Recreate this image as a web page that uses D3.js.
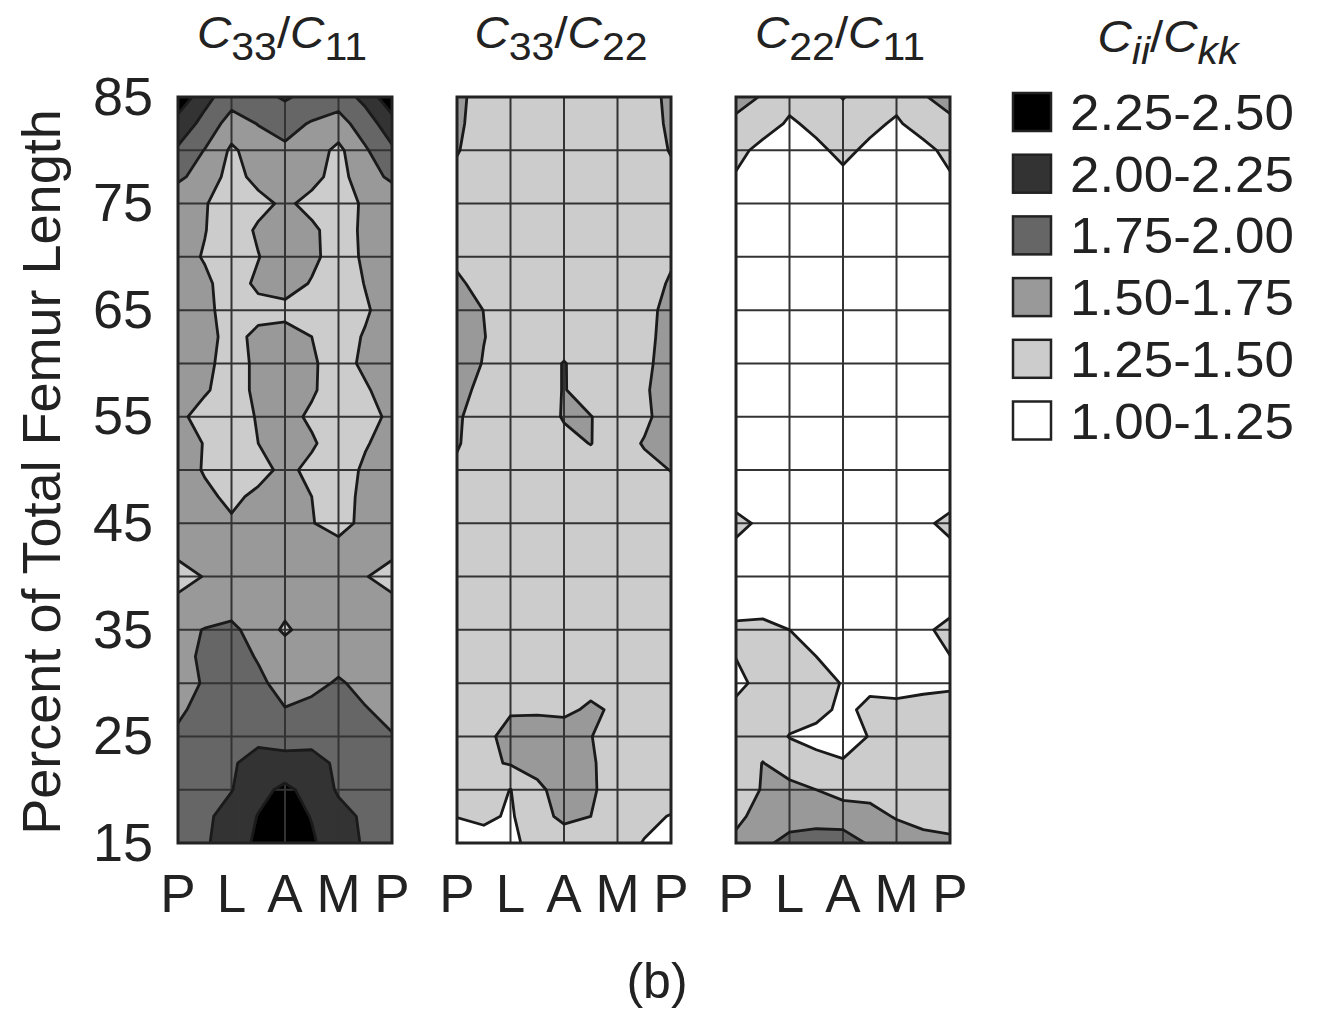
<!DOCTYPE html>
<html>
<head>
<meta charset="utf-8">
<script src="https://cdn.jsdelivr.net/npm/d3@7"></script>
<style>
  body { margin: 0; background: #fff; }
  text { font-family: "Liberation Sans", Arial, sans-serif; fill: #222; }
</style>
</head>
<body>
<svg id="chart" width="1319" height="1015"></svg>
<script>
// x categories (around the femur) and y ticks (percent of femur length)
const xLabels = ["P", "L", "A", "M", "P"];
const yTicks = [15, 25, 35, 45, 55, 65, 75, 85];

// legend bands
const bandStarts = [1.00, 1.25, 1.50, 1.75, 2.00, 2.25];
const bandLabels = ["1.00-1.25", "1.25-1.50", "1.50-1.75", "1.75-2.00", "2.00-2.25", "2.25-2.50"];
const bandColors = ["#ffffff", "#cccccc", "#999999", "#666666", "#333333", "#000000"];

// sampled ratios: rows from 85% (top) to 15% (bottom) every 2.5%,
// columns P .. L .. A .. M .. P every half position
const c33c11 = [
  [2.45, 2.07, 1.87, 1.92, 2.03, 1.92, 1.87, 2.07, 2.45],
  [2.14, 1.93, 1.63, 1.76, 1.83, 1.73, 1.65, 1.88, 2.14],
  [1.97, 1.74, 1.46, 1.62, 1.71, 1.62, 1.44, 1.72, 1.96],
  [1.79, 1.66, 1.40, 1.58, 1.62, 1.58, 1.40, 1.66, 1.79],
  [1.60, 1.52, 1.35, 1.42, 1.55, 1.42, 1.35, 1.55, 1.60],
  [1.60, 1.51, 1.35, 1.54, 1.62, 1.55, 1.38, 1.55, 1.62],
  [1.60, 1.48, 1.35, 1.49, 1.65, 1.56, 1.38, 1.54, 1.62],
  [1.62, 1.55, 1.38, 1.55, 1.62, 1.48, 1.35, 1.51, 1.62],
  [1.62, 1.56, 1.40, 1.42, 1.42, 1.40, 1.36, 1.47, 1.62],
  [1.62, 1.58, 1.42, 1.56, 1.60, 1.50, 1.40, 1.52, 1.62],
  [1.63, 1.56, 1.40, 1.55, 1.60, 1.53, 1.40, 1.55, 1.63],
  [1.60, 1.53, 1.38, 1.56, 1.62, 1.53, 1.38, 1.47, 1.62],
  [1.56, 1.40, 1.38, 1.52, 1.58, 1.46, 1.38, 1.40, 1.56],
  [1.60, 1.49, 1.38, 1.50, 1.58, 1.53, 1.38, 1.48, 1.60],
  [1.62, 1.48, 1.38, 1.42, 1.56, 1.44, 1.38, 1.54, 1.62],
  [1.63, 1.55, 1.45, 1.55, 1.60, 1.50, 1.40, 1.56, 1.63],
  [1.63, 1.60, 1.53, 1.60, 1.62, 1.51, 1.42, 1.56, 1.62],
  [1.55, 1.60, 1.62, 1.63, 1.63, 1.63, 1.58, 1.60, 1.55],
  [1.42, 1.51, 1.62, 1.65, 1.66, 1.65, 1.62, 1.51, 1.42],
  [1.55, 1.60, 1.65, 1.62, 1.58, 1.60, 1.62, 1.60, 1.55],
  [1.68, 1.76, 1.80, 1.65, 1.46, 1.62, 1.65, 1.65, 1.60],
  [1.62, 1.82, 1.85, 1.73, 1.65, 1.67, 1.68, 1.65, 1.62],
  [1.66, 1.77, 1.88, 1.80, 1.66, 1.70, 1.77, 1.70, 1.62],
  [1.70, 1.85, 1.90, 1.85, 1.76, 1.80, 1.85, 1.76, 1.70],
  [1.80, 1.88, 1.95, 1.93, 1.88, 1.90, 1.90, 1.85, 1.76],
  [1.85, 1.90, 1.97, 2.10, 2.10, 2.10, 1.95, 1.90, 1.85],
  [1.85, 1.92, 1.99, 2.18, 2.30, 2.17, 1.97, 1.90, 1.85],
  [1.85, 1.95, 2.10, 2.26, 2.35, 2.24, 2.08, 1.96, 1.85],
  [1.80, 1.97, 2.12, 2.30, 2.38, 2.28, 2.12, 1.97, 1.80]
];

const c33c22 = [
  [1.60, 1.33, 1.35, 1.36, 1.37, 1.36, 1.35, 1.33, 1.60],
  [1.58, 1.30, 1.34, 1.36, 1.37, 1.36, 1.34, 1.30, 1.58],
  [1.52, 1.34, 1.36, 1.37, 1.38, 1.37, 1.36, 1.34, 1.52],
  [1.43, 1.37, 1.38, 1.38, 1.39, 1.38, 1.38, 1.37, 1.43],
  [1.40, 1.38, 1.39, 1.40, 1.40, 1.40, 1.39, 1.38, 1.40],
  [1.42, 1.39, 1.40, 1.40, 1.41, 1.40, 1.40, 1.39, 1.42],
  [1.475, 1.41, 1.40, 1.40, 1.41, 1.40, 1.40, 1.41, 1.475],
  [1.52, 1.46, 1.41, 1.40, 1.41, 1.40, 1.41, 1.42, 1.52],
  [1.58, 1.498, 1.42, 1.40, 1.41, 1.40, 1.41, 1.44, 1.56],
  [1.62, 1.505, 1.43, 1.40, 1.40, 1.40, 1.41, 1.44, 1.58],
  [1.60, 1.49, 1.43, 1.40, 1.51, 1.40, 1.41, 1.45, 1.60],
  [1.56, 1.45, 1.42, 1.40, 1.51, 1.41, 1.42, 1.47, 1.62],
  [1.53, 1.39, 1.41, 1.40, 1.515, 1.505, 1.42, 1.45, 1.62],
  [1.51, 1.44, 1.40, 1.40, 1.45, 1.505, 1.40, 1.516, 1.60],
  [1.48, 1.40, 1.39, 1.39, 1.40, 1.41, 1.42, 1.44, 1.505],
  [1.40, 1.39, 1.39, 1.39, 1.40, 1.40, 1.40, 1.41, 1.42],
  [1.39, 1.39, 1.40, 1.40, 1.40, 1.40, 1.40, 1.40, 1.40],
  [1.38, 1.39, 1.40, 1.41, 1.41, 1.41, 1.40, 1.39, 1.38],
  [1.38, 1.39, 1.40, 1.41, 1.42, 1.41, 1.40, 1.39, 1.38],
  [1.38, 1.39, 1.40, 1.41, 1.42, 1.42, 1.41, 1.39, 1.38],
  [1.38, 1.39, 1.40, 1.41, 1.42, 1.42, 1.42, 1.40, 1.38],
  [1.38, 1.39, 1.40, 1.41, 1.42, 1.43, 1.44, 1.40, 1.38],
  [1.38, 1.39, 1.40, 1.41, 1.42, 1.44, 1.46, 1.40, 1.38],
  [1.38, 1.40, 1.47, 1.47, 1.46, 1.53, 1.47, 1.40, 1.38],
  [1.38, 1.42, 1.60, 1.62, 1.60, 1.505, 1.42, 1.40, 1.38],
  [1.38, 1.45, 1.52, 1.58, 1.62, 1.52, 1.42, 1.40, 1.38],
  [1.38, 1.36, 1.245, 1.45, 1.60, 1.53, 1.40, 1.38, 1.36],
  [1.255, 1.30, 1.22, 1.42, 1.55, 1.50, 1.40, 1.30, 1.24],
  [1.15, 1.15, 1.20, 1.33, 1.38, 1.38, 1.33, 1.24, 1.15]
];

const c22c11 = [
  [1.55, 1.49, 1.32, 1.38, 1.51, 1.38, 1.32, 1.49, 1.55],
  [1.47, 1.35, 1.22, 1.30, 1.40, 1.30, 1.22, 1.35, 1.47],
  [1.32, 1.18, 1.12, 1.207, 1.30, 1.207, 1.12, 1.18, 1.32],
  [1.23, 1.12, 1.10, 1.12, 1.21, 1.12, 1.10, 1.12, 1.23],
  [1.15, 1.10, 1.08, 1.10, 1.12, 1.10, 1.08, 1.10, 1.15],
  [1.12, 1.08, 1.07, 1.08, 1.10, 1.08, 1.07, 1.08, 1.12],
  [1.10, 1.07, 1.06, 1.07, 1.08, 1.07, 1.06, 1.07, 1.10],
  [1.10, 1.07, 1.06, 1.06, 1.07, 1.06, 1.06, 1.07, 1.10],
  [1.10, 1.07, 1.06, 1.06, 1.06, 1.06, 1.06, 1.07, 1.10],
  [1.11, 1.08, 1.06, 1.06, 1.06, 1.06, 1.06, 1.08, 1.11],
  [1.12, 1.08, 1.06, 1.05, 1.05, 1.05, 1.06, 1.08, 1.12],
  [1.12, 1.08, 1.06, 1.05, 1.05, 1.05, 1.06, 1.08, 1.12],
  [1.13, 1.09, 1.06, 1.05, 1.05, 1.05, 1.06, 1.09, 1.13],
  [1.14, 1.10, 1.07, 1.06, 1.05, 1.06, 1.07, 1.10, 1.14],
  [1.15, 1.10, 1.07, 1.06, 1.06, 1.06, 1.07, 1.10, 1.15],
  [1.15, 1.11, 1.08, 1.07, 1.06, 1.07, 1.08, 1.11, 1.15],
  [1.32, 1.20, 1.09, 1.07, 1.07, 1.07, 1.09, 1.20, 1.32],
  [1.19, 1.23, 1.10, 1.08, 1.07, 1.08, 1.10, 1.23, 1.19],
  [1.14, 1.14, 1.10, 1.08, 1.08, 1.09, 1.12, 1.16, 1.14],
  [1.15, 1.15, 1.12, 1.10, 1.09, 1.10, 1.14, 1.24, 1.12],
  [1.30, 1.32, 1.25, 1.18, 1.12, 1.12, 1.15, 1.18, 1.36],
  [1.255, 1.35, 1.33, 1.25, 1.15, 1.13, 1.15, 1.15, 1.245],
  [1.20, 1.31, 1.38, 1.32, 1.24, 1.20, 1.18, 1.20, 1.22],
  [1.30, 1.38, 1.35, 1.32, 1.20, 1.30, 1.30, 1.32, 1.32],
  [1.35, 1.40, 1.24, 1.18, 1.15, 1.26, 1.35, 1.38, 1.38],
  [1.38, 1.505, 1.40, 1.32, 1.27, 1.35, 1.38, 1.38, 1.38],
  [1.42, 1.51, 1.56, 1.50, 1.42, 1.42, 1.40, 1.40, 1.40],
  [1.45, 1.58, 1.65, 1.62, 1.62, 1.58, 1.48, 1.42, 1.40],
  [1.55, 1.70, 1.82, 1.90, 1.88, 1.72, 1.65, 1.58, 1.55]
];

const panels = [
  { num: "33", den: "11", values: c33c11 },
  { num: "33", den: "22", values: c33c22 },
  { num: "22", den: "11", values: c22c11 }
];

const svg = d3.select("#chart");
const plotTop = 97, plotBottom = 843, panelW = 214;
const panelLefts = [178, 457, 736];
const nx = 9, ny = 29;

const y = d3.scaleLinear().domain([15, 85]).range([plotBottom, plotTop]);
const color = d3.scaleThreshold().domain(bandStarts.slice(1)).range(bandColors);
const contours = d3.contours().size([nx, ny]).thresholds(bandStarts);

// C with two subscripts, e.g. C33/C11
function ratioTitle(cx, cy, a, b, italicSub) {
  const t = svg.append("text")
    .attr("transform", "translate(" + cx + "," + cy + ") scale(1.08,1)")
    .attr("text-anchor", "middle").attr("font-size", 44);
  t.append("tspan").attr("font-style", "italic").text("C");
  t.append("tspan").attr("font-size", 38).attr("dy", 12)
    .attr("font-style", italicSub ? "italic" : null).text(a);
  t.append("tspan").attr("dy", -12).text("/");
  t.append("tspan").attr("font-style", "italic").text("C");
  t.append("tspan").attr("font-size", 38).attr("dy", 12)
    .attr("font-style", italicSub ? "italic" : null).text(b);
}

panels.forEach(function(p, k) {
  const x = d3.scaleLinear().domain([0, 4]).range([panelLefts[k], panelLefts[k] + panelW]);

  // grid sample (i, j) sits at contour coordinate (i + 0.5, j + 0.5)
  const proj = d3.geoTransform({
    point: function(cx, cy) {
      this.stream.point(x((cx - 0.5) * 0.5), y(85 - (cy - 0.5) * 2.5));
    }
  });
  const path = d3.geoPath(proj);

  svg.append("clipPath").attr("id", "clip" + k)
    .append("rect")
    .attr("x", x(0)).attr("y", y(85))
    .attr("width", x(4) - x(0)).attr("height", y(15) - y(85));

  const g = svg.append("g").attr("clip-path", "url(#clip" + k + ")");
  const cs = contours(p.values.flat());

  g.selectAll("path.band")
    .data(cs)
    .join("path")
    .attr("class", "band")
    .attr("d", path)
    .attr("fill", function(d) { return color(d.value); });

  // grid
  g.selectAll("line.v")
    .data(d3.range(0, 5))
    .join("line")
    .attr("x1", function(d) { return x(d); }).attr("x2", function(d) { return x(d); })
    .attr("y1", y(85)).attr("y2", y(15))
    .attr("stroke", "#333").attr("stroke-width", 2);
  g.selectAll("line.h")
    .data(d3.range(15, 86, 5))
    .join("line")
    .attr("x1", x(0)).attr("x2", x(4))
    .attr("y1", function(d) { return y(d); }).attr("y2", function(d) { return y(d); })
    .attr("stroke", "#333").attr("stroke-width", 2);

  // contour lines
  g.selectAll("path.iso")
    .data(cs.slice(1))
    .join("path")
    .attr("class", "iso")
    .attr("d", path)
    .attr("fill", "none")
    .attr("stroke", "#1a1a1a")
    .attr("stroke-width", 2.8)
    .attr("stroke-linejoin", "round");

  svg.append("rect")
    .attr("x", x(0)).attr("y", y(85))
    .attr("width", x(4) - x(0)).attr("height", y(15) - y(85))
    .attr("fill", "none").attr("stroke", "#222").attr("stroke-width", 3);

  ratioTitle((x(0) + x(4)) / 2 - 3, 48, p.num, p.den, false);

  // x labels
  svg.selectAll("text.xl" + k)
    .data(xLabels)
    .join("text")
    .attr("class", "xl" + k)
    .attr("x", function(d, i) { return x(i); })
    .attr("y", 912)
    .attr("text-anchor", "middle")
    .attr("font-size", 53)
    .text(function(d) { return d; });
});

// y axis
const yAxis = svg.append("g")
  .attr("transform", "translate(178,0)")
  .attr("color", "#222")
  .call(d3.axisLeft(y).tickValues(yTicks).tickSize(0).tickPadding(25));
yAxis.select(".domain").remove();
yAxis.selectAll("text")
  .attr("font-size", 54)
  .attr("font-family", "Liberation Sans, Arial, sans-serif");

svg.append("text")
  .attr("transform", "translate(60,472) rotate(-90)")
  .attr("text-anchor", "middle")
  .attr("font-size", 54)
  .text("Percent of Total Femur Length");

// legend
ratioTitle(1168, 52, "ii", "kk", true);

const legendOrder = d3.range(bandStarts.length).reverse();
const items = svg.selectAll("g.item")
  .data(legendOrder)
  .join("g")
  .attr("class", "item")
  .attr("transform", function(d, i) { return "translate(1013," + (93 + i * 61.7) + ")"; });
items.append("rect")
  .attr("width", 38).attr("height", 38)
  .attr("fill", function(d) { return bandColors[d]; })
  .attr("stroke", "#222").attr("stroke-width", 2.5);
items.append("text")
  .attr("transform", "translate(57,37) scale(1.06,1)")
  .attr("font-size", 50)
  .text(function(d) { return bandLabels[d]; });

svg.append("text")
  .attr("x", 657).attr("y", 998)
  .attr("text-anchor", "middle").attr("font-size", 50)
  .text("(b)");
</script>
</body>
</html>
